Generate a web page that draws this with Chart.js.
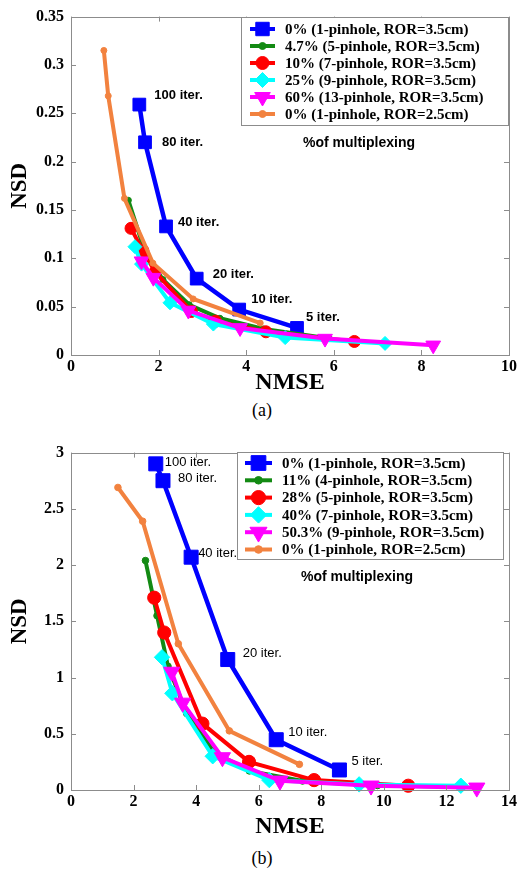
<!DOCTYPE html>
<html><head><meta charset="utf-8">
<script src="https://cdn.jsdelivr.net/npm/chart.js@4/dist/chart.umd.min.js"></script>
<style>
body{margin:0;background:#fff;width:524px;height:873px;position:relative;overflow:hidden}
.wrap{position:absolute;left:0;width:524px}
.cap{position:absolute;left:0;width:524px;text-align:center;font-family:"Liberation Serif",serif;font-size:18px;line-height:20px;color:#000}
</style></head><body>
<div class="wrap" style="top:0;height:395px"><canvas id="ca" width="524" height="395"></canvas></div>
<div class="cap" style="top:400px">(a)</div>
<div class="wrap" style="top:436px;height:403px"><canvas id="cb" width="524" height="403"></canvas></div>
<div class="cap" style="top:848px">(b)</div>
<script>
// ---------- data ----------
const aLegend = ['0% (1-pinhole, ROR=3.5cm)', '4.7% (5-pinhole, ROR=3.5cm)', '10% (7-pinhole, ROR=3.5cm)', '25% (9-pinhole, ROR=3.5cm)', '60% (13-pinhole, ROR=3.5cm)', '0% (1-pinhole, ROR=2.5cm)'];
const bLegend = ['0% (1-pinhole, ROR=3.5cm)', '11% (4-pinhole, ROR=3.5cm)', '28% (5-pinhole, ROR=3.5cm)', '40% (7-pinhole, ROR=3.5cm)', '50.3% (9-pinhole, ROR=3.5cm)', '0% (1-pinhole, ROR=2.5cm)'];
const iterLabels = ['100 iter.', '80 iter.', '40 iter.', '20 iter.', '10 iter.', '5 iter.'];
const noteText = '%of multiplexing';

// chart (a): [NMSE, NSD]
const aBlue    = [[1.56,0.259],[1.69,0.220],[2.17,0.133],[2.87,0.079],[3.84,0.047],[5.16,0.028]];
const aGreen   = [[1.31,0.160],[1.70,0.105],[2.10,0.078],[2.70,0.052],[3.40,0.038],[4.40,0.027],[5.90,0.017]];
const aRed     = [[1.37,0.131],[1.64,0.108],[1.92,0.086],[2.75,0.045],[3.30,0.035],[4.45,0.024],[6.47,0.014]];
const aCyan    = [[1.46,0.112],[1.61,0.094],[2.26,0.054],[3.25,0.032],[4.89,0.018],[7.17,0.012]];
const aMagenta = [[1.61,0.097],[1.88,0.080],[2.68,0.046],[3.86,0.028],[5.80,0.017],[8.27,0.010]];
const aOrange  = [[0.75,0.315],[0.85,0.268],[1.22,0.162],[1.87,0.095],[2.79,0.058],[4.32,0.033]];

// chart (b): [NMSE, NSD]
const bBlue    = [[2.71,2.90],[2.94,2.75],[3.84,2.07],[5.01,1.16],[6.56,0.447],[8.58,0.178]];
const bGreen   = [[2.38,2.04],[2.75,1.55],[3.10,1.10],[3.70,0.68],[4.60,0.33],[5.70,0.17],[7.40,0.08],[9.80,0.04],[12.5,0.03]];
const bRed     = [[2.66,1.71],[2.98,1.40],[4.20,0.59],[5.69,0.25],[7.77,0.088],[10.78,0.038]];
const bCyan    = [[2.91,1.18],[3.24,0.86],[4.53,0.30],[6.34,0.088],[9.21,0.05],[12.46,0.038]];
const bMagenta = [[3.22,1.05],[3.57,0.775],[4.84,0.29],[6.68,0.082],[9.59,0.038],[12.97,0.02]];
const bOrange  = [[1.50,2.69],[2.29,2.39],[3.43,1.30],[5.06,0.526],[7.30,0.228]];

const aXRange = [0, 10], aXStep = 2, aYRange = [0, 0.35], aYStep = 0.05;
const bXRange = [0, 14], bXStep = 2, bYRange = [0, 3], bYStep = 0.5;

// ---------- styles ----------
const COLORS = ['#0000ff', '#138a13', '#ff0000', '#00ffff', '#ff00ff', '#f2823f'];
const STYLES = [
  {pointStyle:'rect', radius:9, rot:0},
  {pointStyle:'circle', radius:3, rot:0},
  {pointStyle:'circle', radius:6, rot:0},
  {pointStyle:'rectRot', radius:7, rot:0},
  {pointStyle:'triangle', radius:8.5, rot:180},
  {pointStyle:'circle', radius:3, rot:0}
];
const toXY = arr => arr.map(p => ({x:p[0], y:p[1]}));

function buildDatasets(series, legend, scaleR) {
  return series.map((s, i) => ({
    label: legend[i],
    data: toXY(s),
    borderColor: COLORS[i],
    backgroundColor: COLORS[i],
    pointBackgroundColor: COLORS[i],
    pointBorderColor: COLORS[i],
    pointBorderWidth: 1,
    borderWidth: i === 0 ? 4.5 : 4,
    pointStyle: STYLES[i].pointStyle,
    pointRadius: STYLES[i].radius * scaleR,
    pointRotation: STYLES[i].rot,
    tension: 0,
    order: 10 - i,
    showLine: true,
    clip: false
  }));
}

const overlayPlugin = {
  id: 'overlay',
  afterDatasetsDraw(chart, args, o) {
    const ctx = chart.ctx, a = chart.chartArea;
    const xs = chart.scales.x, ys = chart.scales.y;
    ctx.save();
    // iteration annotations
    const blue = chart.getDatasetMeta(0).data;
    ctx.fillStyle = '#000';
    ctx.font = o.iterFont;
    ctx.textAlign = 'left'; ctx.textBaseline = 'middle';
    blue.forEach((pt, i) => {
      const off = o.iterOffsets[i];
      ctx.fillText(iterLabels[i], pt.x + off[0], pt.y + off[1]);
    });
    // frame
    ctx.strokeStyle = '#8c8c8c'; ctx.lineWidth = 1;
    ctx.strokeRect(Math.round(a.left)+0.5, Math.round(a.top)+0.5, Math.round(a.right - a.left), Math.round(a.bottom - a.top));
    // inward ticks
    ctx.beginPath();
    xs.ticks.forEach(t => {
      const px = Math.round(xs.getPixelForValue(t.value)) + 0.5;
      ctx.moveTo(px, a.bottom); ctx.lineTo(px, a.bottom - 5);
      ctx.moveTo(px, a.top); ctx.lineTo(px, a.top + 5);
    });
    ys.ticks.forEach(t => {
      const py = Math.round(ys.getPixelForValue(t.value)) + 0.5;
      ctx.moveTo(a.left, py); ctx.lineTo(a.left + 5, py);
      ctx.moveTo(a.right, py); ctx.lineTo(a.right - 5, py);
    });
    ctx.stroke();
    // note
    ctx.font = 'bold 14px "Liberation Sans", Arial, sans-serif';
    ctx.fillStyle = '#000';
    ctx.fillText(noteText, o.note[0], o.note[1]);
    // legend box
    const L = o.legend;
    ctx.fillStyle = '#fff';
    ctx.fillRect(L.x, L.y, L.w, L.h);
    ctx.strokeStyle = '#8c8c8c';
    ctx.strokeRect(L.x + 0.5, L.y + 0.5, L.w, L.h);
    ctx.font = 'bold 15px "Liberation Serif", "Times New Roman", serif';
    chart.data.datasets.forEach((ds, i) => {
      const y = L.y + L.row0 + i * L.dy;
      ctx.strokeStyle = ds.borderColor; ctx.lineWidth = 4;
      ctx.beginPath(); ctx.moveTo(L.x + L.l1, y); ctx.lineTo(L.x + L.l2, y); ctx.stroke();
      ctx.fillStyle = ds.borderColor; ctx.strokeStyle = ds.borderColor; ctx.lineWidth = 1;
      Chart.helpers.drawPoint(ctx, {pointStyle: ds.pointStyle, radius: ds.pointRadius + 0.5, rotation: ds.pointRotation, borderWidth: 1}, L.x + (L.l1 + L.l2) / 2, y);
      ctx.fillStyle = '#000';
      ctx.textAlign = 'left'; ctx.textBaseline = 'middle';
      ctx.fillText(ds.label, L.x + L.tx, y + 1);
    });
    ctx.restore();
  }
};

function fmt(v) { return String(parseFloat(v.toFixed(2))); }

function makeChart(id, series, legend, xr, xs, yr, ys, xH, overlay, scaleR) {
  const tickFont = {family: '"Liberation Serif", "Times New Roman", serif', size: 16, weight: 'bold'};
  const titleFont = {family: '"Liberation Serif", "Times New Roman", serif', size: 24, weight: 'bold', lineHeight: 1};
  return new Chart(document.getElementById(id), {
    type: 'scatter',
    data: {datasets: buildDatasets(series, legend, scaleR)},
    options: {
      responsive: false, animation: false, events: [],
      layout: {padding: {left: 0, right: 15, top: 12, bottom: 0}},
      plugins: {legend: {display: false}, tooltip: {enabled: false}, overlay: overlay},
      scales: {
        x: {
          type: 'linear', min: xr[0], max: xr[1],
          ticks: {stepSize: xs, color: '#000', font: tickFont, padding: 2, maxRotation: 0, callback: v => fmt(v)},
          grid: {display: false, drawTicks: false}, border: {display: false},
          title: {display: true, text: 'NMSE', color: '#000', font: titleFont, padding: {top: 0, bottom: 0}},
          afterFit: s => { s.height = xH; }
        },
        y: {
          type: 'linear', min: yr[0], max: yr[1],
          ticks: {stepSize: ys, color: '#000', font: tickFont, padding: 7, callback: v => fmt(v)},
          grid: {display: false, drawTicks: false}, border: {display: false},
          title: {display: true, text: 'NSD', color: '#000', font: {family: '"Liberation Serif", "Times New Roman", serif', size: 23, weight: 'bold', lineHeight: 1}, padding: {top: 9, bottom: 0}},
          afterFit: s => { s.width = 71; }
        }
      }
    },
    plugins: [overlayPlugin]
  });
}

makeChart('ca', [aBlue, aGreen, aRed, aCyan, aMagenta, aOrange], aLegend, aXRange, aXStep, aYRange, aYStep, 40, {
  iterFont: 'bold 13px "Liberation Sans", Arial, sans-serif',
  iterOffsets: [[15,-9],[17,0],[12,-4],[16,-4],[12,-10],[9,-11]],
  note: [303, 143],
  legend: {x: 241, y: 17, w: 267, h: 108, row0: 12, dy: 17, l1: 9, l2: 34, tx: 44}
}, 1);

makeChart('cb', [bBlue, bGreen, bRed, bCyan, bMagenta, bOrange], bLegend, bXRange, bXStep, bYRange, bYStep, 49, {
  iterFont: '13px "Liberation Sans", Arial, sans-serif',
  iterOffsets: [[9,-1],[15,-2],[7,-4],[15,-6],[12,-7],[12,-9]],
  note: [301, 141],
  legend: {x: 237, y: 16, w: 266, h: 107, row0: 11, dy: 17.3, l1: 8, l2: 35, tx: 45}
}, 1.1);
</script>
</body></html>
